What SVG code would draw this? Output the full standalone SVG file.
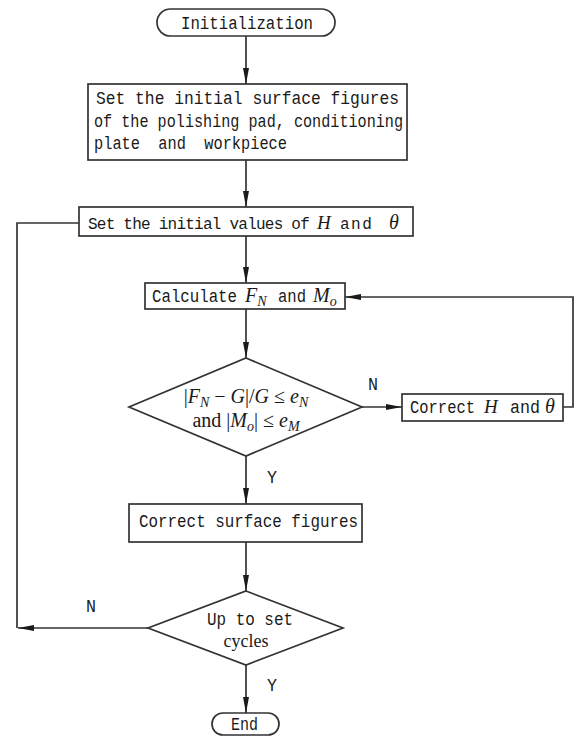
<svg xmlns="http://www.w3.org/2000/svg" width="574" height="737" viewBox="0 0 574 737">
<style>
.box{fill:#fff;stroke:#333;stroke-width:1.7}
.ln{fill:none;stroke:#333;stroke-width:1.7}
.t{font-family:"Liberation Mono","DejaVu Sans Mono",monospace;font-size:17.5px;fill:#1a1a1a}
.m{font-family:"Liberation Serif","DejaVu Serif",serif;font-size:20px;fill:#1a1a1a}
.i{font-style:italic}
.s{font-size:14px}
</style>
<defs>
<marker id="ah" viewBox="0 0 16 8" refX="16" refY="4" markerWidth="16" markerHeight="8" markerUnits="userSpaceOnUse" orient="auto">
<path d="M0,1 L16,4 L0,7 Z" fill="#1a1a1a"/>
</marker>
</defs>
<rect width="574" height="737" fill="#fff"/>
<g id="connectors">
<path class="ln" d="M246,36 V84" marker-end="url(#ah)"/>
<path class="ln" d="M246,160 V207" marker-end="url(#ah)"/>
<path class="ln" d="M246,236 V283" marker-end="url(#ah)"/>
<path class="ln" d="M246,309 V358" marker-end="url(#ah)"/>
<path class="ln" d="M246,456 V504" marker-end="url(#ah)"/>
<path class="ln" d="M246,542 V591" marker-end="url(#ah)"/>
<path class="ln" d="M246,665 V713" marker-end="url(#ah)"/>
<path class="ln" d="M362,407 H402" marker-end="url(#ah)"/>
<path class="ln" d="M563,407 H573 V297 H345" marker-end="url(#ah)"/>
<path class="ln" d="M79,223 H17 V628"/>
<path class="ln" d="M148,628 H18" marker-end="url(#ah)"/>
<text class="t" x="368" y="390" textLength="10" lengthAdjust="spacingAndGlyphs">N</text>
<text class="t" x="267" y="483" textLength="10" lengthAdjust="spacingAndGlyphs">Y</text>
<text class="t" x="86" y="612" textLength="10" lengthAdjust="spacingAndGlyphs">N</text>
<text class="t" x="267" y="691" textLength="10" lengthAdjust="spacingAndGlyphs">Y</text>
</g>
<g id="init">
<rect class="box" x="157" y="9" width="178" height="27" rx="13.5"/>
<text class="t" x="181" y="29" textLength="132" lengthAdjust="spacingAndGlyphs">Initialization</text>
</g>
<g id="set-surface">
<rect class="box" x="88" y="84" width="319" height="76"/>
<text class="t" x="96" y="104" textLength="303" lengthAdjust="spacingAndGlyphs">Set the initial surface figures</text>
<text class="t" x="94" y="127" textLength="309" lengthAdjust="spacingAndGlyphs">of the polishing pad, conditioning</text>
<text class="t" x="94" y="149" textLength="193" lengthAdjust="spacingAndGlyphs" xml:space="preserve">plate  and  workpiece</text>
</g>
<g id="set-values">
<rect class="box" x="79" y="207" width="334" height="29"/>
<text class="t" x="88" y="229" style="font-size:16px;letter-spacing:-0.76px">Set the initial values of<tspan class="m i" x="317" style="font-size:19px;letter-spacing:0">H</tspan><tspan x="340" style="letter-spacing:1.5px">and</tspan><tspan class="m i" x="389" style="font-size:20px;letter-spacing:0">θ</tspan></text>
</g>
<g id="calculate">
<rect class="box" x="145" y="283" width="200" height="26"/>
<text class="t" x="152" y="302" textLength="85" lengthAdjust="spacingAndGlyphs">Calculate</text>
<text class="m i" x="245" y="302">F<tspan class="s" dy="4">N</tspan></text>
<text class="t" x="278" y="302" textLength="28" lengthAdjust="spacingAndGlyphs">and</text>
<text class="m i" x="313" y="302">M<tspan class="s" dy="4">o</tspan></text>
</g>
<g id="check-force">
<polygon class="box" points="246,358 362,407 246,456 129,407"/>
<text class="m" x="246" y="403" text-anchor="middle">|<tspan class="i">F</tspan><tspan class="i s" dy="4">N</tspan><tspan dy="-4"> − </tspan><tspan class="i">G</tspan>|/<tspan class="i">G</tspan> ≤ <tspan class="i">e</tspan><tspan class="i s" dy="4">N</tspan></text>
<text class="m" x="246" y="427" text-anchor="middle">and |<tspan class="i">M</tspan><tspan class="i s" dy="4">o</tspan><tspan dy="-4">| ≤ </tspan><tspan class="i">e</tspan><tspan class="i s" dy="4">M</tspan></text>
</g>
<g id="correct-h">
<rect class="box" x="402" y="394" width="161" height="27"/>
<text class="t" x="410" y="413" textLength="65" lengthAdjust="spacingAndGlyphs">Correct</text>
<text class="m i" x="484" y="413" style="font-size:19px">H</text>
<text class="t" x="510" y="413" textLength="30" lengthAdjust="spacingAndGlyphs">and</text>
<text class="m i" x="550" y="413" text-anchor="middle">θ</text>
</g>
<g id="correct-surface">
<rect class="box" x="129" y="504" width="233" height="38"/>
<text class="t" x="139" y="527" textLength="219" lengthAdjust="spacingAndGlyphs">Correct surface figures</text>
</g>
<g id="check-cycles">
<polygon class="box" points="246,591 343,628 246,665 148,628"/>
<text class="t" x="207" y="625" textLength="86" lengthAdjust="spacingAndGlyphs">Up to set</text>
<text class="m" x="246" y="647" text-anchor="middle" style="font-size:18px">cycles</text>
</g>
<g id="end">
<rect class="box" x="212" y="713" width="67" height="22" rx="11"/>
<text class="t" x="231" y="730" textLength="27" lengthAdjust="spacingAndGlyphs">End</text>
</g>
</svg>
